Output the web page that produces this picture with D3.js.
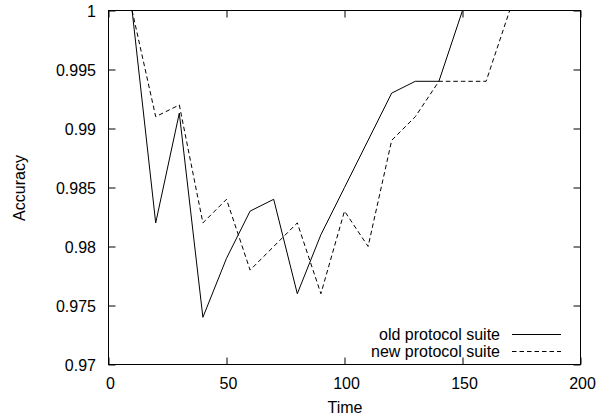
<!DOCTYPE html>
<html>
<head>
<meta charset="utf-8">
<script src="https://cdn.jsdelivr.net/npm/d3@7"></script>
<style>
  html, body { margin: 0; padding: 0; background: #fff; }
  svg { display: block; }
  text { font-family: "Liberation Sans", Arial, sans-serif; font-size: 16px; fill: #000; }
</style>
</head>
<body>
<svg id="chart" width="598" height="415"></svg>
<script>
const times = [10, 20, 30, 40, 50, 60, 70, 80, 90, 100, 110, 120, 130, 140, 150, 160, 170, 180, 190, 200];
const oldSuite = [1.0, 0.982, 0.9913, 0.974, 0.979, 0.983, 0.984, 0.976, 0.981, 0.985, 0.989, 0.993, 0.994, 0.994, 1.0, 1.0, 1.0, 1.0, 1.0, 1.0];
const newSuite = [1.0, 0.991, 0.992, 0.982, 0.984, 0.978, 0.980, 0.982, 0.976, 0.983, 0.980, 0.989, 0.991, 0.994, 0.994, 0.994, 1.0, 1.0, 1.0, 1.0];
const xTicks = [0, 50, 100, 150, 200];
const yTicks = [0.97, 0.975, 0.98, 0.985, 0.99, 0.995, 1];
const seriesNames = ["old protocol suite", "new protocol suite"];

(function () {
const svg = d3.select("#chart");
const pLeft = 108.5, pRight = 580.5, pTop = 10.5, pBottom = 364.5;
const FS = 16;

const x = d3.scaleLinear().domain([0, 200]).range([pLeft, pRight]);
const y = d3.scaleLinear().domain([0.97, 1]).range([pBottom, pTop]);

const fmtY = d => d === 1 ? "1" : d3.format(".3~f")(d);

svg.append("clipPath").attr("id", "clip")
  .append("rect").attr("x", pLeft).attr("y", pTop).attr("width", pRight - pLeft).attr("height", pBottom - pTop);

const tickLen = 7;
const gB = svg.append("g").attr("transform", `translate(0,${pBottom})`)
  .call(d3.axisBottom(x).tickValues(xTicks).tickSizeInner(-tickLen).tickSizeOuter(0));
const gT = svg.append("g").attr("transform", `translate(0,${pTop})`)
  .call(d3.axisTop(x).tickValues(xTicks).tickSizeInner(-tickLen).tickSizeOuter(0).tickFormat(""));
const gL = svg.append("g").attr("transform", `translate(${pLeft},0)`)
  .call(d3.axisLeft(y).tickValues(yTicks).tickSizeInner(-tickLen).tickSizeOuter(0).tickPadding(12.5).tickFormat(fmtY));
const gR = svg.append("g").attr("transform", `translate(${pRight},0)`)
  .call(d3.axisRight(y).tickValues(yTicks).tickSizeInner(-tickLen).tickSizeOuter(0).tickFormat(""));

[gB, gT, gL, gR].forEach(g => {
  g.select(".domain").remove();
  g.selectAll("line").attr("stroke", "#000").attr("stroke-width", 1);
  g.selectAll("text").attr("font-family", "Liberation Sans, Arial, sans-serif").attr("font-size", FS).attr("fill", "#000");
});
gB.selectAll("text").attr("dy", null).attr("y", 24).attr("x", 1.5);
gL.selectAll("text").attr("dy", "0.35em");

svg.append("rect").attr("x", pLeft).attr("y", pTop).attr("width", pRight - pLeft).attr("height", pBottom - pTop)
  .attr("fill", "none").attr("stroke", "#000").attr("stroke-width", 1);

const line = vals => d3.line().x((d, i) => x(times[i])).y(d => y(d))(vals);
const plot = svg.append("g").attr("clip-path", "url(#clip)");
plot.append("path").attr("d", line(oldSuite)).attr("fill", "none").attr("stroke", "#000").attr("stroke-width", 1);
plot.append("path").attr("d", line(newSuite)).attr("fill", "none").attr("stroke", "#000").attr("stroke-width", 1)
  .attr("stroke-dasharray", "4.5,3");

const legendX = 500, legendY = [334, 351];
seriesNames.forEach((name, i) => {
  svg.append("text").attr("x", legendX).attr("y", legendY[i]).attr("dy", "0.35em")
    .attr("text-anchor", "end").text(name);
  svg.append("line").attr("x1", 512).attr("x2", 561).attr("y1", legendY[i] + 0.5).attr("y2", legendY[i] + 0.5)
    .attr("stroke", "#000").attr("stroke-width", 1)
    .attr("stroke-dasharray", i === 1 ? "4.5,3" : null);
});

svg.append("text").attr("x", 345).attr("y", 413).attr("text-anchor", "middle").text("Time");
svg.append("text").attr("transform", `translate(25,188) rotate(-90)`).attr("text-anchor", "middle").text("Accuracy");
})();
</script>
</body>
</html>
